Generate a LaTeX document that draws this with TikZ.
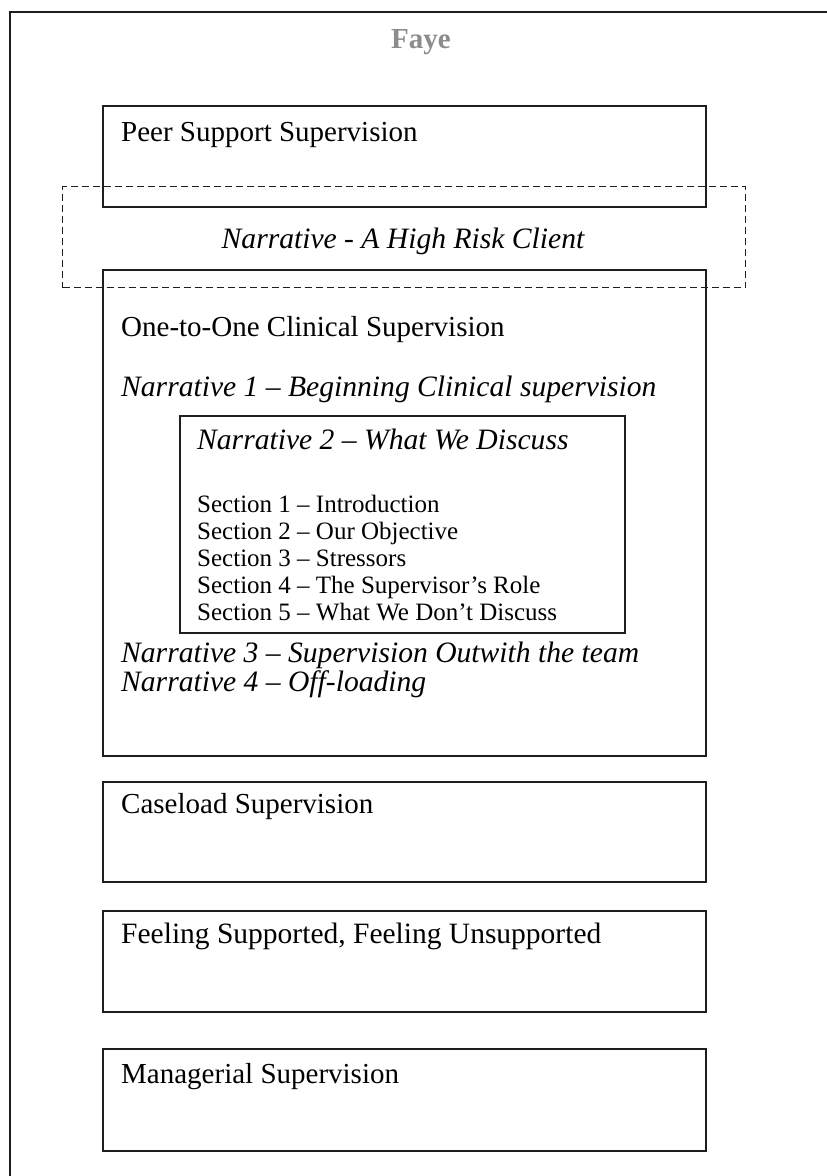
\documentclass[tikz,border=0pt]{standalone}
\usepackage{fontspec}
\setmainfont{Liberation Serif}
\definecolor{fayegray}{RGB}{140,140,140}
\definecolor{linec}{RGB}{30,30,30}
\begin{document}
\begin{tikzpicture}[x=1pt,y=-1pt,
  box/.style={draw=linec,line width=1.5pt,anchor=north west,inner sep=0pt,rectangle},
  dbox/.style={draw=linec,line width=1.3pt,dash pattern=on 7pt off 4pt,anchor=north west,inner sep=0pt,rectangle},
  lbl/.style={anchor=base west,inner sep=0pt,font=\fontsize{29}{31}\selectfont},
  ilbl/.style={anchor=base west,inner sep=0pt,font=\fontsize{29.6}{31}\selectfont\itshape},
  slbl/.style={anchor=base west,inner sep=0pt,font=\fontsize{25}{27}\selectfont}]
\useasboundingbox (0,0) rectangle (827,1176);
% outer frame (extends past page edges)
\coordinate (ftl) at (10,12);
\coordinate (fbl) at (10,1180);
\coordinate (ftr) at (830,12);
\draw[draw=linec,line width=1.6pt] (fbl) -- (ftl) -- (ftr);
\node[anchor=base,inner sep=0pt,font=\fontsize{29}{31}\selectfont\bfseries,text=fayegray] (faye) at (421,48) {Faye};
% boxes
\node[box,minimum width=603pt,minimum height=101pt] (peer) at (102,105) {};
\node[dbox,minimum width=683pt,minimum height=101pt] (risk) at (62,186) {};
\node[box,minimum width=603pt,minimum height=486pt] (one) at (102,269) {};
\node[box,minimum width=445pt,minimum height=217pt] (inner) at (179,415) {};
\node[box,minimum width=603pt,minimum height=100pt] (case) at (102,781) {};
\node[box,minimum width=603pt,minimum height=101pt] (feel) at (102,910) {};
\node[box,minimum width=603pt,minimum height=102pt] (man) at (102,1048) {};
% texts
\node[lbl] (tpeer) at (121,141) {Peer Support Supervision};
\node[ilbl,anchor=base] (trisk) at (403,248) {Narrative - A High Risk Client};
\node[lbl] (tone) at (121,336) {One-to-One Clinical Supervision};
\node[ilbl] (tn1) at (121,396) {Narrative 1 -- Beginning Clinical supervision};
\node[ilbl] (tn2) at (197,449) {Narrative 2 -- What We Discuss};
\node[slbl] (s1) at (197,512) {Section 1 -- Introduction};
\node[slbl] (s2) at (197,539) {Section 2 -- Our Objective};
\node[slbl] (s3) at (197,566) {Section 3 -- Stressors};
\node[slbl] (s4) at (197,593) {Section 4 -- The Supervisor’s Role};
\node[slbl] (s5) at (197,620) {Section 5 -- What We Don’t Discuss};
\node[ilbl] (tn3) at (121,662) {Narrative 3 -- Supervision Outwith the team};
\node[ilbl] (tn4) at (121,691) {Narrative 4 -- Off-loading};
\node[lbl] (tcase) at (121,813) {Caseload Supervision};
\node[lbl,font=\fontsize{29.5}{31}\selectfont] (tfeel) at (121,943) {Feeling Supported, Feeling Unsupported};
\node[lbl] (tman) at (121,1083) {Managerial Supervision};
\end{tikzpicture}
\end{document}
